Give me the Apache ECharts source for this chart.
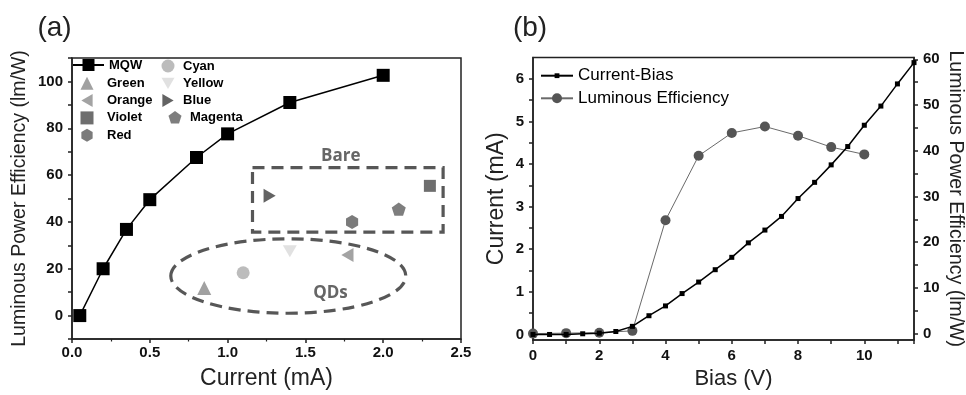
<!DOCTYPE html>
<html><head><meta charset="utf-8">
<script src="https://cdn.jsdelivr.net/npm/echarts@6/dist/echarts.min.js"></script>
<style>html,body{margin:0;padding:0;background:#fff}#c{width:966px;height:395px}</style>
</head><body><div id="c"></div>
<script>
// ---------- Panel (a) data ----------
const mqwCurrent = [0.05, 0.2, 0.35, 0.5, 0.8, 1.0, 1.4, 2.0];
const mqwEff = [0, 20, 36.8, 49.5, 67.5, 77.6, 91, 102.6];
const singleNames = ['Green', 'Cyan', 'Yellow', 'Orange', 'Blue', 'Violet', 'Magenta', 'Red'];
const singleCurrent = [0.85, 1.10, 1.40, 1.77, 1.27, 2.30, 2.10, 1.80];
const singleEff = [11.8, 18.3, 27.5, 25.9, 51.2, 55.4, 45.5, 40.0];
const aXTicks = [0, 0.5, 1.0, 1.5, 2.0, 2.5];
const aYTicks = [0, 20, 40, 60, 80, 100];
// annotation shapes (data coordinates)
const bareBox = [[1.16, 63.2], [2.385, 35.6]];
const qdEllipse = [1.39, 16.9, 0.755, 15.9]; // cx, cy, rx, ry
const bareLabel = [1.727, 68.2];
const qdLabel = [1.661, 9.4];

// ---------- Panel (b) data ----------
const biasV = [0,0.5,1,1.5,2,2.5,3,3.5,4,4.5,5,5.5,6,6.5,7,7.5,8,8.5,9,9.5,10,10.5,11,11.5];
const currentMA = [0,0,0,0.016,0.03,0.07,0.19,0.44,0.67,0.96,1.23,1.52,1.81,2.15,2.45,2.77,3.19,3.57,3.98,4.41,4.91,5.36,5.88,6.38];
const effBias = [0,1,2,3,4,5,6,7,8,9,10];
const effValue = [0,0.1,0.2,0.6,24.8,38.9,43.9,45.3,43.3,40.8,39.2];

const FONT = 'Liberation Sans, Arial, sans-serif';
const AX = '#222';
const pentagon = 'path://M50,0 L97.6,34.5 L79.4,90.5 L20.6,90.5 L2.4,34.5 Z';
const hexagon = 'path://M50,0 L93.3,25 L93.3,75 L50,100 L6.7,75 L6.7,25 Z';
const triDown = 'path://M0,0 L100,0 L50,86.6 Z';
const triLeft = 'path://M86.6,0 L86.6,100 L0,50 Z';
const triRight = 'path://M0,0 L86.6,50 L0,100 Z';
const singleStyle = {
  Green:   {symbol: 'triangle', size: 14, color: '#8a8a8a'},
  Cyan:    {symbol: 'circle',   size: 13, color: '#ababab'},
  Yellow:  {symbol: triDown,    size: 14, color: '#d9d9d9'},
  Orange:  {symbol: triLeft,    size: 14, color: '#8c8c8c'},
  Blue:    {symbol: triRight,   size: 14, color: '#3c3c3c'},
  Violet:  {symbol: 'rect',     size: 12, color: '#4a4a4a'},
  Magenta: {symbol: pentagon,   size: 14, color: '#5e5e5e'},
  Red:     {symbol: hexagon,    size: 14, color: '#5a5a5a'}
};

const tickLabel = {fontFamily: FONT, fontWeight: 'bold', fontSize: 15, color: '#111'};
const axLine = {show: true, onZero: false, lineStyle: {color: AX, width: 1.5}};
const axTick = {show: true, length: 4, lineStyle: {color: AX, width: 1.5}};

function inList(list, v) { return list.some(t => Math.abs(t - v) < 1e-6); }

const series = [];
series.push({
  name: 'MQW', type: 'line', xAxisIndex: 0, yAxisIndex: 0,
  data: mqwCurrent.map((x, i) => [x, mqwEff[i]]),
  symbol: 'rect', symbolSize: 13, clip: false,
  lineStyle: {color: '#000', width: 1.5}, itemStyle: {color: '#000'}
});
singleNames.forEach((n, i) => {
  const s = singleStyle[n];
  series.push({
    name: n, type: 'scatter', xAxisIndex: 0, yAxisIndex: 0,
    data: [[singleCurrent[i], singleEff[i]]],
    symbol: s.symbol, symbolSize: s.size, symbolKeepAspect: true,
    itemStyle: {color: s.color}
  });
});
series.push({
  name: 'Current-Bias', type: 'line', xAxisIndex: 1, yAxisIndex: 1,
  data: biasV.map((x, i) => [x, currentMA[i]]),
  symbol: 'rect', symbolSize: 5, clip: false, z: 3,
  lineStyle: {color: '#000', width: 1.5}, itemStyle: {color: '#000'}
});
series.push({
  name: 'Luminous Efficiency', type: 'line', xAxisIndex: 1, yAxisIndex: 2,
  data: effBias.map((x, i) => [x, effValue[i]]),
  symbol: 'circle', symbolSize: 10, clip: false, z: 2,
  lineStyle: {color: '#6a6a6a', width: 1}, itemStyle: {color: '#555'}
});

function mkLegend(names, left, centerY, itemW, itemH, rowH, font) {
  const lh = font.lineHeight;
  const h = Math.max(itemH, lh);
  return {
    data: names, left: left, top: centerY - h / 2, orient: 'vertical', padding: 0,
    itemWidth: itemW, itemHeight: itemH, itemGap: rowH - h,
    textStyle: font, selectedMode: false
  };
}
const legA = pad => ({fontFamily: FONT, fontWeight: 'bold', fontSize: 13, color: '#000', lineHeight: 13, padding: [0, 0, 0, pad]});
const legB = {fontFamily: FONT, fontSize: 17, color: '#000', lineHeight: 17};

const option = {
  backgroundColor: '#fff',
  animation: false,
  grid: [
    {left: 72, top: 58, width: 389, height: 286, show: true, borderColor: AX, borderWidth: 1.5, backgroundColor: 'transparent'},
    {left: 533, top: 57.5, width: 383, height: 283.5, show: true, borderColor: AX, borderWidth: 1.5, backgroundColor: 'transparent'}
  ],
  legend: [
    mkLegend(['MQW'], 72, 66, 31, 15, 17.3, legA(0)),
    mkLegend(['Green', 'Orange', 'Violet', 'Red'], 80.5, 83.3, 13, 13, 17.3, legA(8.5)),
    mkLegend(['Cyan', 'Yellow', 'Blue'], 161.5, 66, 13, 13, 17.3, legA(3.5)),
    mkLegend(['Magenta'], 168.5, 117.3, 13, 13, 17.3, legA(3.5)),
    mkLegend(['Current-Bias'], 540, 75.7, 32, 6, 22, legB),
    mkLegend(['Luminous Efficiency'], 540, 98.3, 32, 12.5, 22, legB)
  ],
  xAxis: [
    {gridIndex: 0, type: 'value', min: 0, max: 2.5, interval: 0.5,
     axisLine: axLine, axisTick: axTick,
     minorTick: {show: true, splitNumber: 2, length: 2.5, lineStyle: {color: AX, width: 1.2}},
     splitLine: {show: false}, minorSplitLine: {show: false},
     axisLabel: Object.assign({margin: 6, formatter: v => inList(aXTicks, v) ? v.toFixed(1) : ''}, tickLabel),
     name: 'Current (mA)', nameLocation: 'middle', nameGap: 28,
     nameTextStyle: {fontFamily: FONT, fontSize: 23, color: '#222'}},
    {gridIndex: 1, type: 'value', min: 0, max: 11.5, interval: 1,
     axisLine: axLine, axisTick: axTick, splitLine: {show: false},
     axisLabel: Object.assign({margin: 8, formatter: v => (Math.abs(v % 2) < 1e-6 && v <= 10) ? String(v) : ''}, tickLabel),
     name: 'Bias (V)', nameLocation: 'middle', nameGap: 28,
     nameTextStyle: {fontFamily: FONT, fontSize: 22, color: '#222', padding: [0, 0, 0, 20]}}
  ],
  yAxis: [
    {gridIndex: 0, type: 'value', min: -10, max: 110, interval: 10,
     axisLine: axLine, axisTick: axTick, splitLine: {show: false},
     axisLabel: Object.assign({margin: 9, formatter: v => inList(aYTicks, v) ? String(v) : ''}, tickLabel),
     name: 'Luminous Power Efficiency (lm/W)', nameLocation: 'middle', nameGap: 42,
     nameTextStyle: {fontFamily: FONT, fontSize: 19.5, color: '#222'}},
    {gridIndex: 1, type: 'value', min: -0.13, max: 6.5, splitNumber: 13,
     axisLine: axLine, axisTick: axTick, splitLine: {show: false},
     axisLabel: Object.assign({margin: 9, showMinLabel: false, showMaxLabel: false, formatter: v => (Math.abs(v - Math.round(v)) < 1e-6 && v >= 0 && v <= 6) ? String(Math.round(v)) : ''}, tickLabel),
     name: 'Current (mA)', nameLocation: 'middle', nameGap: 25,
     nameTextStyle: {fontFamily: FONT, fontSize: 23, color: '#222'}},
    {gridIndex: 1, type: 'value', position: 'right', min: -1.4, max: 60.4, splitNumber: 12,
     axisLine: axLine, axisTick: axTick, splitLine: {show: false},
     axisLabel: Object.assign({margin: 9, showMinLabel: false, showMaxLabel: false, formatter: v => (Math.abs(v % 10) < 1e-6 && v >= 0 && v <= 60) ? String(Math.round(v)) : ''}, tickLabel),
     name: 'Luminous Power Efficiency (lm/W)', nameLocation: 'middle', nameGap: 31, nameRotate: -90,
     nameTextStyle: {fontFamily: FONT, fontSize: 19.5, color: '#222'}}
  ],
  series: series
};

const chart = echarts.init(document.getElementById('c'), null, {renderer: 'canvas'});
chart.setOption(option);

// annotations converted from data coordinates
const p = v => chart.convertToPixel({gridIndex: 0}, v);
const b0 = p(bareBox[0]), b1 = p(bareBox[1]);
const ec = p([qdEllipse[0], qdEllipse[1]]);
const ee = p([qdEllipse[0] + qdEllipse[2], qdEllipse[1] + qdEllipse[3]]);
const bl = p(bareLabel), ql = p(qdLabel);
const dash = {fill: null, stroke: '#575757', lineWidth: 3.2, lineDash: [12, 7]};
chart.setOption({
  graphic: [
    {type: 'rect', shape: {x: b0[0], y: b0[1], width: b1[0] - b0[0], height: b1[1] - b0[1]}, style: dash, z: 1},
    {type: 'ellipse', shape: {cx: ec[0], cy: ec[1], rx: ee[0] - ec[0], ry: ec[1] - ee[1]}, style: dash, z: 1},
    {type: 'text', x: bl[0], y: bl[1], style: {text: 'Bare', font: 'bold 17px "Open Sans", sans-serif', fill: '#666', align: 'center', verticalAlign: 'middle'}},
    {type: 'text', x: ql[0], y: ql[1], style: {text: 'QDs', font: 'bold 17px "Open Sans", sans-serif', fill: '#666', align: 'center', verticalAlign: 'middle'}},
    {type: 'text', x: 54.5, y: 28, style: {text: '(a)', font: '28px ' + FONT, fill: '#222', align: 'center', verticalAlign: 'middle'}},
    {type: 'text', x: 530, y: 28, style: {text: '(b)', font: '28px ' + FONT, fill: '#222', align: 'center', verticalAlign: 'middle'}}
  ]
});
</script>
</body></html>
